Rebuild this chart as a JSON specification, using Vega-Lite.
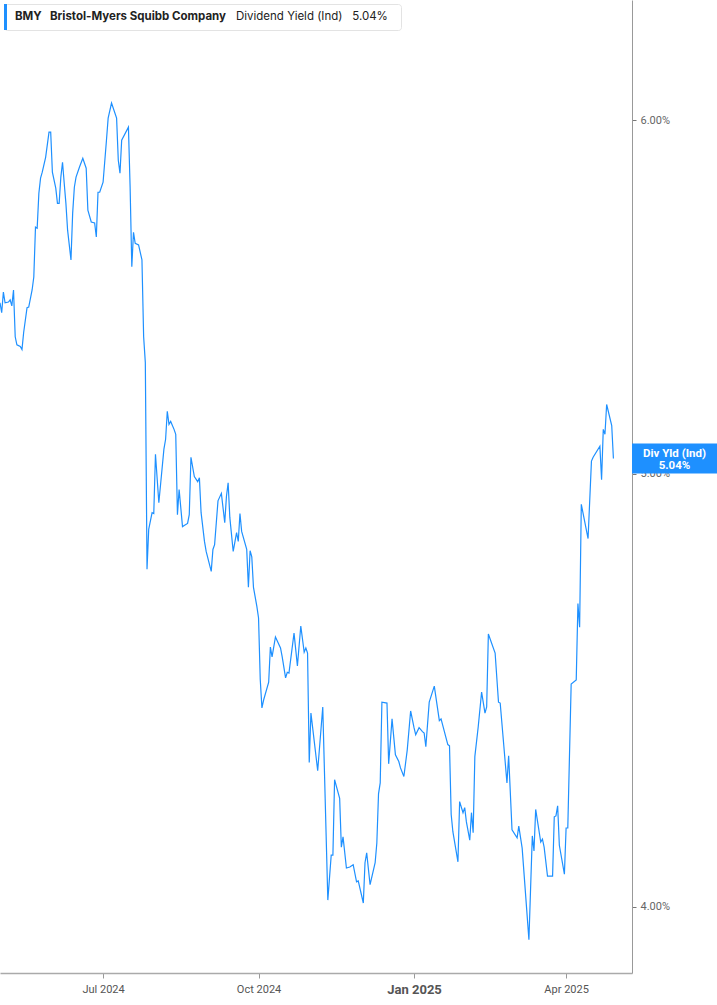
{
  "$schema": "https://vega.github.io/schema/vega-lite/v6.json",
  "width": 632,
  "height": 973,
  "autosize": {"type": "none"},
  "padding": {"left": 0, "top": 0, "right": 85, "bottom": 32},
  "background": "white",
  "config": {"view": {"stroke": null}, "font": "Roboto"},
  "data": {"values": [
    {"date":"2024-05-01","yield":5.461},{"date":"2024-05-02","yield":5.433},{"date":"2024-05-03","yield":5.491},{"date":"2024-05-04","yield":5.461},
    {"date":"2024-05-06","yield":5.463},{"date":"2024-05-07","yield":5.469},{"date":"2024-05-08","yield":5.452},{"date":"2024-05-09","yield":5.497},
    {"date":"2024-05-10","yield":5.366},{"date":"2024-05-11","yield":5.344},{"date":"2024-05-13","yield":5.339},{"date":"2024-05-14","yield":5.331},
    {"date":"2024-05-15","yield":5.378},{"date":"2024-05-17","yield":5.447},{"date":"2024-05-18","yield":5.449},{"date":"2024-05-20","yield":5.497},
    {"date":"2024-05-21","yield":5.534},{"date":"2024-05-22","yield":5.678},{"date":"2024-05-23","yield":5.675},{"date":"2024-05-24","yield":5.778},
    {"date":"2024-05-25","yield":5.823},{"date":"2024-05-26","yield":5.841},{"date":"2024-05-28","yield":5.886},{"date":"2024-05-30","yield":5.963},
    {"date":"2024-05-31","yield":5.963},{"date":"2024-06-01","yield":5.841},{"date":"2024-06-03","yield":5.793},{"date":"2024-06-04","yield":5.748},
    {"date":"2024-06-05","yield":5.748},{"date":"2024-06-06","yield":5.826},{"date":"2024-06-07","yield":5.871},{"date":"2024-06-08","yield":5.808},
    {"date":"2024-06-09","yield":5.748},{"date":"2024-06-10","yield":5.669},{"date":"2024-06-12","yield":5.583},{"date":"2024-06-13","yield":5.719},
    {"date":"2024-06-14","yield":5.796},{"date":"2024-06-15","yield":5.826},{"date":"2024-06-17","yield":5.856},{"date":"2024-06-19","yield":5.883},
    {"date":"2024-06-21","yield":5.853},{"date":"2024-06-22","yield":5.728},{"date":"2024-06-24","yield":5.693},{"date":"2024-06-26","yield":5.690},
    {"date":"2024-06-27","yield":5.649},{"date":"2024-06-28","yield":5.781},{"date":"2024-06-29","yield":5.781},{"date":"2024-07-01","yield":5.811},
    {"date":"2024-07-03","yield":5.938},{"date":"2024-07-04","yield":6.006},{"date":"2024-07-06","yield":6.053},{"date":"2024-07-09","yield":6.006},
    {"date":"2024-07-10","yield":5.877},{"date":"2024-07-11","yield":5.838},{"date":"2024-07-12","yield":5.938},{"date":"2024-07-16","yield":5.978},
    {"date":"2024-07-17","yield":5.796},{"date":"2024-07-18","yield":5.563},{"date":"2024-07-19","yield":5.663},{"date":"2024-07-20","yield":5.631},
    {"date":"2024-07-22","yield":5.626},{"date":"2024-07-24","yield":5.583},{"date":"2024-07-25","yield":5.366},{"date":"2024-07-26","yield":5.295},
    {"date":"2024-07-27","yield":4.760},{"date":"2024-07-28","yield":4.859},{"date":"2024-07-30","yield":4.901},{"date":"2024-07-31","yield":4.899},
    {"date":"2024-08-01","yield":5.051},{"date":"2024-08-03","yield":4.926},{"date":"2024-08-06","yield":5.064},{"date":"2024-08-07","yield":5.090},
    {"date":"2024-08-08","yield":5.164},{"date":"2024-08-09","yield":5.129},{"date":"2024-08-10","yield":5.137},{"date":"2024-08-12","yield":5.116},
    {"date":"2024-08-13","yield":5.103},{"date":"2024-08-14","yield":4.896},{"date":"2024-08-15","yield":4.960},{"date":"2024-08-17","yield":4.866},
    {"date":"2024-08-18","yield":4.869},{"date":"2024-08-20","yield":4.874},{"date":"2024-08-21","yield":4.896},{"date":"2024-08-22","yield":5.043},
    {"date":"2024-08-24","yield":4.993},{"date":"2024-08-26","yield":4.980},{"date":"2024-08-27","yield":4.990},{"date":"2024-08-28","yield":4.901},
    {"date":"2024-08-30","yield":4.829},{"date":"2024-08-31","yield":4.804},{"date":"2024-09-03","yield":4.755},{"date":"2024-09-04","yield":4.809},
    {"date":"2024-09-05","yield":4.821},{"date":"2024-09-07","yield":4.931},{"date":"2024-09-09","yield":4.950},{"date":"2024-09-11","yield":4.876},
    {"date":"2024-09-12","yield":4.942},{"date":"2024-09-13","yield":4.977},{"date":"2024-09-14","yield":4.889},{"date":"2024-09-16","yield":4.804},
    {"date":"2024-09-18","yield":4.851},{"date":"2024-09-19","yield":4.829},{"date":"2024-09-20","yield":4.899},{"date":"2024-09-21","yield":4.854},
    {"date":"2024-09-24","yield":4.809},{"date":"2024-09-25","yield":4.716},{"date":"2024-09-26","yield":4.806},{"date":"2024-09-27","yield":4.791},
    {"date":"2024-09-28","yield":4.716},{"date":"2024-09-30","yield":4.670},{"date":"2024-10-01","yield":4.642},{"date":"2024-10-02","yield":4.498},
    {"date":"2024-10-03","yield":4.432},{"date":"2024-10-04","yield":4.450},{"date":"2024-10-07","yield":4.491},{"date":"2024-10-08","yield":4.573},
    {"date":"2024-10-09","yield":4.550},{"date":"2024-10-11","yield":4.597},{"date":"2024-10-14","yield":4.571},{"date":"2024-10-15","yield":4.550},
    {"date":"2024-10-17","yield":4.501},{"date":"2024-10-18","yield":4.514},{"date":"2024-10-19","yield":4.512},{"date":"2024-10-22","yield":4.606},
    {"date":"2024-10-24","yield":4.529},{"date":"2024-10-26","yield":4.623},{"date":"2024-10-28","yield":4.561},{"date":"2024-10-29","yield":4.571},
    {"date":"2024-10-30","yield":4.559},{"date":"2024-10-31","yield":4.309},{"date":"2024-11-01","yield":4.420},{"date":"2024-11-05","yield":4.291},
    {"date":"2024-11-08","yield":4.434},{"date":"2024-11-11","yield":4.014},{"date":"2024-11-13","yield":4.108},{"date":"2024-11-14","yield":4.108},
    {"date":"2024-11-15","yield":4.271},{"date":"2024-11-18","yield":4.230},{"date":"2024-11-19","yield":4.125},{"date":"2024-11-20","yield":4.147},
    {"date":"2024-11-22","yield":4.081},{"date":"2024-11-24","yield":4.083},{"date":"2024-11-26","yield":4.088},{"date":"2024-11-28","yield":4.052},
    {"date":"2024-11-29","yield":4.054},{"date":"2024-12-02","yield":4.008},{"date":"2024-12-03","yield":4.092},{"date":"2024-12-04","yield":4.113},
    {"date":"2024-12-06","yield":4.046},{"date":"2024-12-09","yield":4.092},{"date":"2024-12-10","yield":4.134},{"date":"2024-12-11","yield":4.240},
    {"date":"2024-12-12","yield":4.264},{"date":"2024-12-13","yield":4.445},{"date":"2024-12-16","yield":4.443},{"date":"2024-12-17","yield":4.306},
    {"date":"2024-12-19","yield":4.407},{"date":"2024-12-21","yield":4.326},{"date":"2024-12-23","yield":4.311},{"date":"2024-12-24","yield":4.297},
    {"date":"2024-12-26","yield":4.278},{"date":"2024-12-28","yield":4.337},{"date":"2024-12-30","yield":4.425},{"date":"2025-01-01","yield":4.387},
    {"date":"2025-01-02","yield":4.371},{"date":"2025-01-04","yield":4.387},{"date":"2025-01-06","yield":4.378},{"date":"2025-01-07","yield":4.375},
    {"date":"2025-01-08","yield":4.344},{"date":"2025-01-10","yield":4.445},{"date":"2025-01-13","yield":4.482},{"date":"2025-01-16","yield":4.403},
    {"date":"2025-01-17","yield":4.407},{"date":"2025-01-21","yield":4.349},{"date":"2025-01-22","yield":4.346},{"date":"2025-01-23","yield":4.195},
    {"date":"2025-01-24","yield":4.158},{"date":"2025-01-27","yield":4.094},{"date":"2025-01-28","yield":4.223},{"date":"2025-01-30","yield":4.199},
    {"date":"2025-01-31","yield":4.210},{"date":"2025-02-01","yield":4.179},{"date":"2025-02-03","yield":4.140},{"date":"2025-02-04","yield":4.199},
    {"date":"2025-02-05","yield":4.156},{"date":"2025-02-06","yield":4.322},{"date":"2025-02-08","yield":4.389},{"date":"2025-02-10","yield":4.468},
    {"date":"2025-02-12","yield":4.420},{"date":"2025-02-13","yield":4.434},{"date":"2025-02-14","yield":4.604},{"date":"2025-02-18","yield":4.559},
    {"date":"2025-02-20","yield":4.445},{"date":"2025-02-21","yield":4.443},{"date":"2025-02-25","yield":4.264},{"date":"2025-02-26","yield":4.324},
    {"date":"2025-02-28","yield":4.162},{"date":"2025-03-03","yield":4.145},{"date":"2025-03-04","yield":4.170},{"date":"2025-03-06","yield":4.123},
    {"date":"2025-03-10","yield":3.933},{"date":"2025-03-12","yield":4.149},{"date":"2025-03-13","yield":4.117},{"date":"2025-03-14","yield":4.206},
    {"date":"2025-03-17","yield":4.136},{"date":"2025-03-18","yield":4.142},{"date":"2025-03-19","yield":4.125},{"date":"2025-03-21","yield":4.064},
    {"date":"2025-03-24","yield":4.064},{"date":"2025-03-25","yield":4.190},{"date":"2025-03-26","yield":4.192},{"date":"2025-03-27","yield":4.214},
    {"date":"2025-03-28","yield":4.129},{"date":"2025-03-31","yield":4.068},{"date":"2025-04-01","yield":4.166},{"date":"2025-04-02","yield":4.166},
    {"date":"2025-04-04","yield":4.487},{"date":"2025-04-07","yield":4.496},{"date":"2025-04-08","yield":4.677},{"date":"2025-04-09","yield":4.620},
    {"date":"2025-04-10","yield":4.922},{"date":"2025-04-14","yield":4.836},{"date":"2025-04-16","yield":5.033},{"date":"2025-04-17","yield":5.043},
    {"date":"2025-04-21","yield":5.072},{"date":"2025-04-22","yield":4.985},{"date":"2025-04-23","yield":5.116},{"date":"2025-04-24","yield":5.103},
    {"date":"2025-04-25","yield":5.182},{"date":"2025-04-28","yield":5.126},{"date":"2025-04-29","yield":5.04}
  ]},
  "layer": [
    {
      "mark": {"type": "line", "strokeWidth": 1.2, "interpolate": "linear", "color": "#1e90ff"},
      "encoding": {
        "x": {
          "field": "date", "type": "temporal",
          "scale": {"type": "utc", "domain": [{"year": 2024, "month": 5, "date": 1, "utc": true}, {"year": 2025, "month": 5, "date": 10, "utc": true}]},
          "axis": {
            "title": null,
            "values": [{"year": 2024, "month": 7, "date": 1, "utc": true}, {"year": 2024, "month": 10, "date": 1, "utc": true}, {"year": 2025, "month": 1, "date": 1, "utc": true}, {"year": 2025, "month": 4, "date": 1, "utc": true}],
            "labelExpr": "utcFormat(datum.value, '%b %Y')",
            "grid": false,
            "domainColor": "#aaaaaa", "domainWidth": 1.5,
            "tickColor": "#999999", "tickSize": 5,
            "labelPadding": 5, "labelFont": "Roboto", "labelFlush": false,
            "labelFontSize": {"condition": {"test": "utcmonth(datum.value) == 0", "value": 13}, "value": 11},
            "labelFontWeight": {"condition": {"test": "utcmonth(datum.value) == 0", "value": "bold"}, "value": "normal"},
            "labelColor": "#555555"
          }
        },
        "y": {
          "field": "yield", "type": "quantitative",
          "scale": {"type": "log", "domain": [3.866, 6.383], "nice": false},
          "axis": {
            "orient": "right", "title": null, "values": [4, 5, 6],
            "labelExpr": "format(datum.value, '.2f') + '%'",
            "grid": false, "domainColor": "#999999", "tickColor": "#777777", "tickSize": 4,
            "labelPadding": 4, "labelFontSize": 11, "labelColor": "#666666", "labelFont": "Roboto"
          }
        }
      }
    },
    {
      "transform": [{"aggregate": [{"op": "argmax", "field": "date", "as": "last"}]}],
      "mark": {"type": "rect", "x": "width", "x2": {"expr": "width + 85"}, "height": 30},
      "encoding": {
        "y": {"field": "last.yield", "type": "quantitative"},
        "color": {
          "datum": "BMY",
          "scale": {"range": ["#1e90ff"]},
          "legend": {
            "orient": "top-left", "offset": 4,
            "title": "Dividend Yield (Ind)\u00a0\u00a0\u00a05.04%\u00a0\u00a0\u00a0\u00a0\u200b",
            "titleOrient": "right", "titleFont": "Inter", "titleFontSize": 11.5, "titleFontWeight": "normal",
            "titleColor": "#222222", "titlePadding": 10, "titleLimit": 400, "titleBaseline": "middle", "titleAnchor": "middle",
            "labelExpr": "'BMY\u00a0\u00a0\u00a0Bristol-Myers Squibb Company'",
            "labelFont": "Inter", "labelFontSize": 11.5, "labelFontWeight": "bold", "labelColor": "#222222",
            "labelLimit": 400, "labelOffset": -15,
            "symbolType": "M-1,-1H-0.77V1H-1Z", "symbolSize": 676,
            "symbolStrokeWidth": 0,
            "fillColor": "#ffffff", "strokeColor": "#e3e3e3", "cornerRadius": 3, "padding": 0
          }
        }
      }
    },
    {
      "transform": [{"aggregate": [{"op": "argmax", "field": "date", "as": "last"}]}],
      "mark": {"type": "text", "x": {"expr": "width + 42.5"}, "dy": -4, "align": "center", "baseline": "middle", "color": "white", "font": "Roboto", "fontSize": 11.5, "fontWeight": "bold", "lineHeight": 12},
      "encoding": {
        "y": {"field": "last.yield", "type": "quantitative"},
        "text": {"value": ["Div Yld (Ind)", "5.04%"]}
      }
    }
  ]
}
